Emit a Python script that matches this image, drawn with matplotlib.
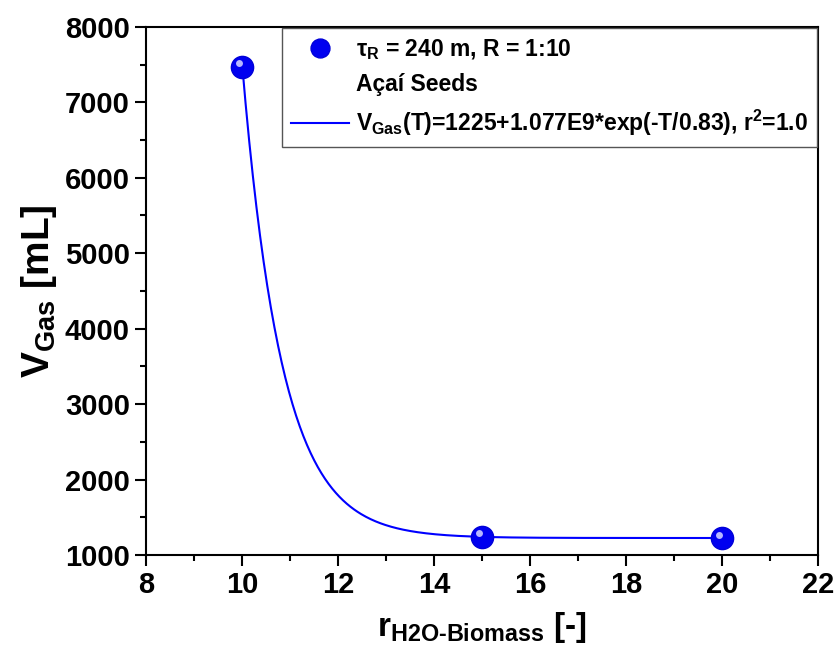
import numpy as np
from matplotlib import pyplot as plt
from matplotlib.ticker import MultipleLocator
from matplotlib.transforms import ScaledTranslation

plt.rcParams['font.family'] = ['Liberation Sans', 'DejaVu Sans']
plt.rcParams['font.weight'] = 'bold'
plt.rcParams['axes.labelweight'] = 'bold'
plt.rcParams['mathtext.fontset'] = 'custom'
plt.rcParams['mathtext.rm'] = 'Liberation Sans:bold'
plt.rcParams['mathtext.bf'] = 'Liberation Sans:bold'
plt.rcParams['mathtext.it'] = 'Liberation Sans:bold'
plt.rcParams['mathtext.default'] = 'bf'

# measured points
ratio = [10, 15, 20]
v_gas = [7470, 1240, 1225]

# fit parameters from the legend
fit_y0 = 1225
fit_a = 1.077e9
fit_t = 0.83

fig = plt.figure(figsize=(8.34, 6.56), dpi=100)
ax = fig.add_axes([0.175, 0.154, 0.806, 0.805])

xs = np.linspace(10, 20, 400)
ax.plot(xs, fit_y0 + fit_a * np.exp(-xs / fit_t), color='#0000ff', lw=1.5, zorder=2,
        label=r'V$_{Gas}$(T)=1225+1.077E9*exp(-T/0.83), r$^2$=1.0')
ax.plot(ratio, v_gas, 'o', ms=16, color='#0000f0', mec='#0000d8', mew=1, zorder=3,
        label=r'$\tau_R$ = 240 m, R = 1:10')
# little highlight so the markers look like spheres
shift = ax.transData + ScaledTranslation(-2.5 / 72, 2.5 / 72, fig.dpi_scale_trans)
ax.plot(ratio, v_gas, 'o', ms=5, color='#b8b8ff', mec='none', zorder=4, transform=shift)
ax.plot([], [], ' ', label='Açaí Seeds')

ax.set_xlim(8, 22)
ax.set_ylim(1000, 8000)
ax.xaxis.set_major_locator(MultipleLocator(2))
ax.xaxis.set_minor_locator(MultipleLocator(1))
ax.yaxis.set_major_locator(MultipleLocator(1000))
ax.yaxis.set_minor_locator(MultipleLocator(500))
ax.tick_params(which='major', direction='out', length=8, width=1.5, labelsize=21)
ax.tick_params(which='minor', direction='out', length=4, width=1.5)
for s in ax.spines.values():
    s.set_linewidth(1.5)

ax.set_xlabel(r'r$_{H2O\text{-}Biomass}$ [-]', fontsize=24, labelpad=8)
ax.set_ylabel(r'V$_{Gas}$ [mL]', fontsize=28, labelpad=4)

h, l = ax.get_legend_handles_labels()
order = [1, 2, 0]
leg = ax.legend([h[i] for i in order], [l[i] for i in order], loc='upper right',
                bbox_to_anchor=(0.998, 0.998), borderaxespad=0, fontsize=16.5,
                fancybox=False, edgecolor='#555555', framealpha=1, handlelength=2.5,
                handletextpad=0.3, borderpad=0.4, labelspacing=0.5, markerscale=0.85)
leg.get_frame().set_linewidth(1.0)

fig.savefig('out.png', dpi=100)
